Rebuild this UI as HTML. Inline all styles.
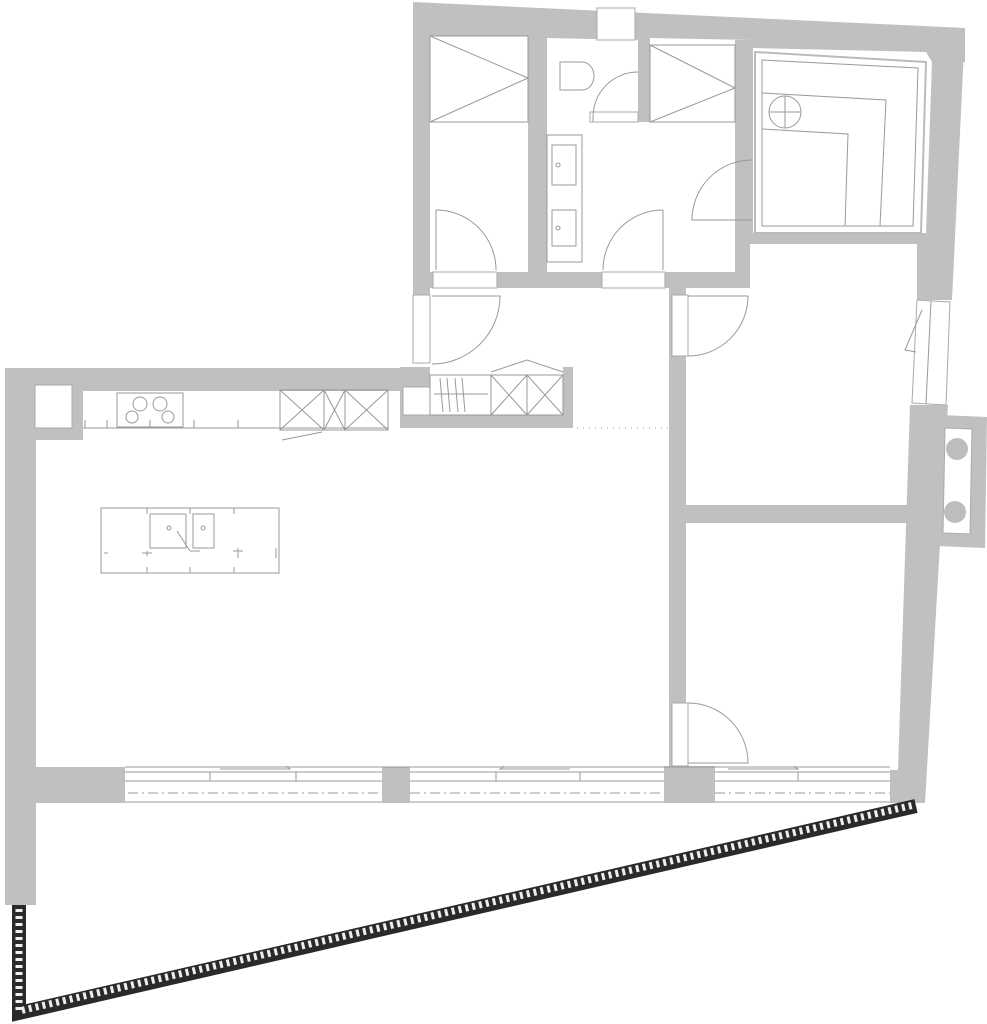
<!DOCTYPE html>
<html><head><meta charset="utf-8"><style>
html,body{margin:0;padding:0;background:#fff}
svg{display:block}
</style></head><body>
<svg width="987" height="1024" viewBox="0 0 987 1024" xmlns="http://www.w3.org/2000/svg">
<g fill="#c0c0c0" stroke="none">
<polygon points="413,2 965,28 965,62 932,62 926,52 753,48 753,40 650,38 638,38 638,40 547,38 547,36 430,36 430,290 413,290"/>
<rect x="528" y="36" width="19" height="236"/>
<rect x="638" y="38" width="12" height="84"/>
<rect x="735" y="40" width="18" height="200"/>
<polygon points="932,28 965,28 952,300 917,300 917,240 926,233 932,62"/>
<rect x="735" y="233" width="190" height="11"/>
<rect x="735" y="233" width="15" height="55"/>
<rect x="413" y="272" width="337" height="16"/>
<rect x="413" y="288" width="17" height="8"/>
<polygon points="910,405 948,405 925,803 890,803 890,770 898,770"/>
<polygon points="940,415 987,417 985,548 937,546"/>
<rect x="5" y="368" width="425" height="23"/>
<rect x="5" y="368" width="78" height="72"/>
<rect x="5" y="368" width="31" height="537"/>
<rect x="400" y="367" width="30" height="61"/>
<rect x="400" y="415" width="173" height="13"/>
<rect x="563" y="367" width="10" height="61"/>
<rect x="669" y="288" width="17" height="478"/>
<rect x="686" y="505" width="222" height="18"/>
<rect x="5" y="767" width="120" height="36"/>
<rect x="382" y="767" width="28" height="36"/>
<rect x="664" y="766" width="51" height="37"/>
</g>
<g fill="#fff" stroke="#aaa" stroke-width="1">
<rect x="35" y="385" width="37" height="43"/>
<rect x="403" y="387" width="27" height="28"/>
<polygon points="945,428 972,429 970,534 943,533" fill="#fff"/>
<rect x="597" y="8" width="38" height="32"/>
<rect x="413" y="295" width="17" height="68"/>
<rect x="672" y="295" width="16" height="61"/>
<rect x="672" y="703" width="16" height="63"/>
<polygon points="917,300 950,302 946,405 912,403"/>
<rect x="433" y="272" width="64" height="16"/>
<rect x="602" y="272" width="63" height="16"/>
<rect x="590" y="112" width="48" height="10"/>
</g>
<g fill="#bdbdbd"><circle cx="957" cy="449" r="11"/><circle cx="955" cy="512" r="11"/></g>
<g fill="none" stroke="#999" stroke-width="1">
<rect x="430" y="36" width="98" height="86"/>
<polyline points="430,36 528,78 430,122"/>
<rect x="650" y="45" width="85" height="77"/>
<polyline points="650,45 735,88 650,122"/>
<path d="M560,62 h22 a12,14 0 0 1 0,28 h-22 z"/>
<path d="M638,72 a45,45 0 0 0 -45,45"/>
<line x1="593" y1="117" x2="593" y2="122"/>
<rect x="547" y="135" width="35" height="127"/>
<rect x="552" y="145" width="24" height="40"/>
<rect x="552" y="210" width="24" height="36"/>
<circle cx="558" cy="165" r="2"/><circle cx="558" cy="228" r="2"/>
<path d="M436,210 a60,60 0 0 1 60,60"/><line x1="436" y1="210" x2="436" y2="270"/>
<path d="M663,210 a60,60 0 0 0 -60,60"/><line x1="663" y1="210" x2="663" y2="270"/>
<path d="M752,160 a60,60 0 0 0 -60,60 h60"/>
<polygon points="755,52 926,62 921,233 755,233" stroke="#bbb" stroke-width="2"/>
<polygon points="762,60 918,68 913,226 762,226"/>
<polyline points="762,93 886,100 880,226"/>
<polyline points="762,129 848,134 845,226"/>
<circle cx="785" cy="112" r="16"/>
<line x1="785" y1="96" x2="785" y2="128"/><line x1="769" y1="112" x2="801" y2="112"/>
<path d="M432,296 h68 a68,68 0 0 1 -68,68"/>
<path d="M688,296 h60 a60,60 0 0 1 -60,60"/>
<path d="M688,703 a60,60 0 0 1 60,60 h-60"/>
<line x1="931" y1="301" x2="926" y2="404"/>
<polyline points="922,310 905,350 916,352"/>
<line x1="83" y1="428" x2="388" y2="428"/>
<rect x="117" y="393" width="66" height="34"/>
<circle cx="140" cy="404" r="7"/><circle cx="160" cy="404" r="7"/>
<circle cx="132" cy="417" r="6"/><circle cx="168" cy="417" r="6"/>
<path d="M85,420 v8 M107,420 v8 M150,420 v8 M194,420 v8 M238,420 v8"/>
<rect x="280" y="390" width="108" height="40"/>
<line x1="324" y1="390" x2="324" y2="430"/><line x1="345" y1="390" x2="345" y2="430"/>
<path d="M280,390 L324,430 M324,390 L280,430 M324,390 L345,430 M345,390 L324,430 M345,390 L388,430 M388,390 L345,430"/>
<line x1="282" y1="440" x2="322" y2="432"/>
<rect x="430" y="375" width="133" height="40"/>
<line x1="491" y1="375" x2="491" y2="415"/><line x1="527" y1="375" x2="527" y2="415"/>
<path d="M491,375 L527,415 M527,375 L491,415 M527,375 L563,415 M563,375 L527,415"/>
<polyline points="491,372 527,360 563,372"/>
<line x1="434" y1="394" x2="488" y2="394"/>
<path d="M440,378 l3,34 M447,378 l3,34 M455,378 l3,34 M462,378 l3,34"/>
<rect x="101" y="508" width="178" height="65"/>
<rect x="150" y="514" width="36" height="34"/>
<rect x="193" y="514" width="21" height="34"/>
<circle cx="169" cy="528" r="2"/><circle cx="203" cy="528" r="2"/>
<line x1="177" y1="531" x2="190" y2="551"/>
<path d="M147,551 v5 M142,553 h10 M190,551 h10 M233,551 h10 M238,548 v10"/>
<path d="M104,553 h4 M276,548 v10 M147,508 v6 M190,508 v6 M234,508 v6 M147,567 v6 M190,567 v6 M234,567 v6"/>
<line x1="125" y1="767" x2="890" y2="767"/>
<line x1="125" y1="772" x2="382" y2="772"/><line x1="125" y1="781" x2="382" y2="781"/>
<line x1="410" y1="772" x2="664" y2="772"/><line x1="410" y1="781" x2="664" y2="781"/>
<line x1="715" y1="772" x2="890" y2="772"/><line x1="715" y1="781" x2="890" y2="781"/>
<line x1="125" y1="802" x2="382" y2="802"/><line x1="410" y1="802" x2="664" y2="802"/><line x1="715" y1="802" x2="890" y2="802"/>
<path d="M210,772 v9 M296,772 v9 M496,772 v9 M580,772 v9 M798,772 v9"/>
<path d="M220,769 h70 l-4,-3 M570,769 h-70 l4,-3 M728,769 h70 l-4,-3"/>
</g>
<g stroke="#999" stroke-width="1" stroke-dasharray="10 4 2 4" fill="none">
<line x1="128" y1="793" x2="382" y2="793"/><line x1="410" y1="793" x2="664" y2="793"/><line x1="715" y1="793" x2="890" y2="793"/>
</g>
<line x1="577" y1="428" x2="668" y2="428" stroke="#999" stroke-dasharray="1 5"/>
<polyline points="19,905 19,1013 916,806" fill="none" stroke="#2a2a2a" stroke-width="14" stroke-linejoin="miter"/>
<polyline points="19,909 19,1011 914,805" fill="none" stroke="#eee" stroke-width="7" stroke-dasharray="3 4"/>
</svg>
</body></html>
